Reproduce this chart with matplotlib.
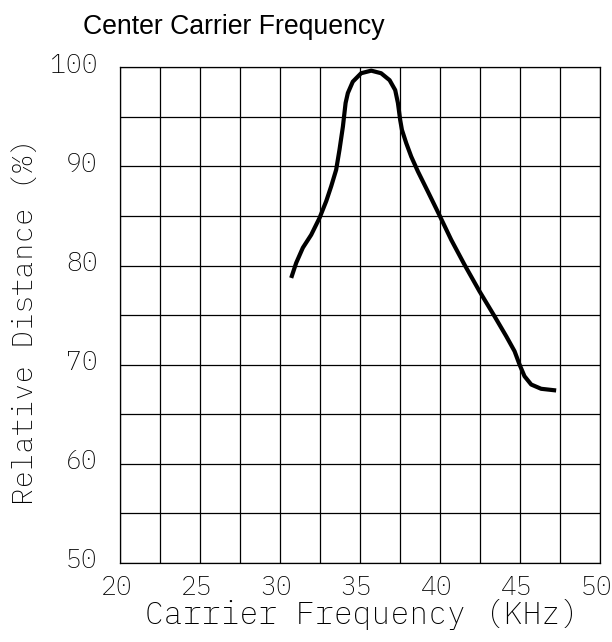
import matplotlib
matplotlib.use("Agg")
import matplotlib.pyplot as plt
from matplotlib.transforms import ScaledTranslation

freq_khz = [30.73, 31.04, 31.46, 31.98, 32.5, 32.92, 33.23, 33.54, 33.75, 33.96,
            34.13, 34.27, 34.58, 35.1, 35.73, 36.35, 36.88, 37.23, 37.4, 37.54,
            37.65, 37.92, 38.23, 38.65, 39.27, 39.98, 40.73, 41.56, 42.5, 43.44,
            44.17, 44.69, 45.0, 45.31, 45.73, 46.35, 47.29]
rel_dist = [78.75, 80.26, 81.8, 83.1, 84.8, 86.5, 88.0, 89.66, 91.7, 94.0,
            96.4, 97.4, 98.55, 99.4, 99.66, 99.4, 98.7, 97.7, 96.4, 94.7,
            93.69, 92.35, 91.0, 89.49, 87.47, 85.13, 82.6, 80.09, 77.4, 74.88,
            72.87, 71.36, 70.02, 68.84, 68.0, 67.57, 67.4]

x_ticks = [20, 25, 30, 35, 40, 45, 50]
x_grid = [22.5, 27.5, 32.5, 37.5, 42.5, 47.5]
y_ticks = [50, 60, 70, 80, 90, 100]
y_grid = [55, 65, 75, 85, 95]

mono = "IBM Plex Mono"

fig = plt.figure(figsize=(6.12, 6.42), dpi=100)
ax = fig.add_axes([0.1953, 0.1231, 0.7843, 0.7721])

ax.plot(freq_khz, rel_dist, color="black", lw=3.0, solid_joinstyle="round",
        solid_capstyle="butt", zorder=3)

ax.set_xlim(20, 50)
ax.set_ylim(50, 100)
ax.set_xticks(x_ticks)
ax.set_xticks(x_grid, minor=True)
ax.set_yticks(y_ticks)
ax.set_yticks(y_grid, minor=True)
ax.grid(True, which="both", color="black", lw=0.9)
ax.tick_params(which="both", length=0)
ax.tick_params(axis="x", pad=8.5)
ax.tick_params(axis="y", pad=15.5)
for s in ax.spines.values():
    s.set_linewidth(0.9)

for lbl in ax.get_xticklabels() + ax.get_yticklabels():
    lbl.set_fontfamily(mono)
    lbl.set_fontweight(200)
    lbl.set_fontsize(19)
# y labels sit a little above their grid line, x labels a bit to the left
for lbl in ax.get_yticklabels():
    lbl.set_transform(lbl.get_transform() + ScaledTranslation(0, 4.5 / 100, fig.dpi_scale_trans))
for lbl in ax.get_xticklabels():
    lbl.set_transform(lbl.get_transform() + ScaledTranslation(-3 / 100, 0, fig.dpi_scale_trans))

ax.set_xlabel("Carrier Frequency (KHz)", family=mono, weight=200, fontsize=22.7, va="baseline")
ax.set_ylabel("Relative Distance (%)", family=mono, weight=200, fontsize=21, va="baseline")
ax.xaxis.set_label_coords(0.505, -0.123)
ax.yaxis.set_label_coords(-0.180, 0.487)

fig.text(83 / 612, 1 - 33.5 / 642, "Center Carrier Frequency", family="Liberation Sans",
         fontsize=19.2, va="baseline")

fig.savefig("out.png")
